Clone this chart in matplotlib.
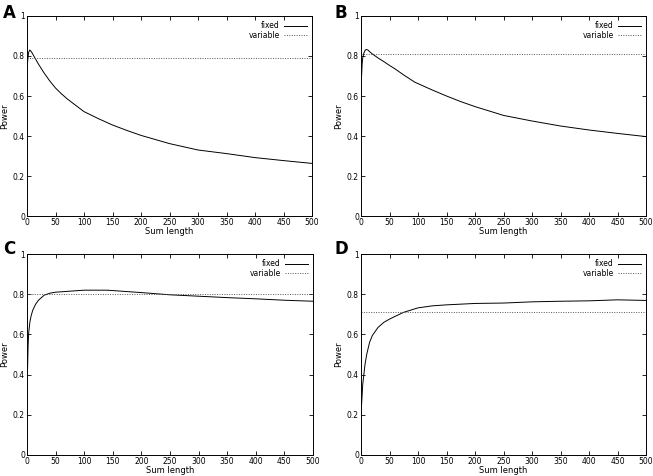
import matplotlib
matplotlib.use("Agg")
import matplotlib.pyplot as plt

# ---- data ----
x_A = [1, 2, 3, 5, 8, 10, 15, 20, 30, 40, 50, 60, 70, 80, 100, 125, 150, 175, 200, 250, 300, 350, 400, 450, 500]
fixed_A = [0.77, 0.80, 0.82, 0.83, 0.82, 0.81, 0.785, 0.76, 0.715, 0.675, 0.64, 0.612, 0.587, 0.565, 0.522, 0.487, 0.455, 0.428, 0.403, 0.362, 0.33, 0.312, 0.292, 0.277, 0.263]
variable_A = 0.79

x_B = [1, 2, 3, 5, 7, 9, 12, 15, 20, 30, 40, 50, 60, 75, 95, 100, 125, 150, 175, 200, 250, 300, 350, 400, 450, 500]
fixed_B = [0.70, 0.76, 0.79, 0.815, 0.827, 0.833, 0.83, 0.822, 0.81, 0.79, 0.772, 0.753, 0.735, 0.705, 0.668, 0.662, 0.63, 0.60, 0.572, 0.547, 0.503, 0.475, 0.45, 0.43, 0.413, 0.397]
variable_B = 0.81

x_C = [1, 2, 3, 5, 7, 10, 15, 20, 30, 40, 50, 75, 100, 140, 175, 200, 250, 300, 350, 400, 450, 500]
fixed_C = [0.43, 0.55, 0.61, 0.66, 0.69, 0.72, 0.75, 0.77, 0.795, 0.805, 0.81, 0.815, 0.82, 0.82, 0.813, 0.808, 0.797, 0.79, 0.783, 0.777, 0.77, 0.765]
variable_C = 0.80

x_D = [1, 2, 3, 5, 7, 10, 15, 20, 25, 30, 40, 50, 60, 75, 100, 125, 150, 200, 250, 300, 350, 400, 450, 500]
fixed_D = [0.25, 0.30, 0.35, 0.40, 0.45, 0.50, 0.56, 0.595, 0.615, 0.635, 0.66, 0.676, 0.69, 0.71, 0.732, 0.742, 0.747, 0.754, 0.756, 0.762, 0.765, 0.767, 0.772, 0.769]
variable_D = 0.71

panels = [("A", x_A, fixed_A, variable_A),
          ("B", x_B, fixed_B, variable_B),
          ("C", x_C, fixed_C, variable_C),
          ("D", x_D, fixed_D, variable_D)]

xticks = [0, 50, 100, 150, 200, 250, 300, 350, 400, 450, 500]
yticks = [0, 0.2, 0.4, 0.6, 0.8, 1]
ytick_labels = ["0", "0.2", "0.4", "0.6", "0.8", "1"]

W, H = 653, 476
fig = plt.figure(figsize=(W / 100, H / 100), dpi=100)
plt.rcParams['font.family'] = ['DejaVu Sans']

# axes boxes in pixels: left, top, right, bottom
boxes = [(27, 16, 312, 216), (361, 16, 646, 216),
         (27, 254, 313, 455), (361, 254, 646, 455)]
label_pos = [(3, 4), (335, 4), (3, 240), (335, 240)]

for (lab, xs, fx, var), (l, t, r, b), (lx, ly) in zip(panels, boxes, label_pos):
    ax = fig.add_axes([l / W, 1 - b / H, (r - l) / W, (b - t) / H])
    ax.plot(xs, fx, color="black", lw=0.7, label="fixed")
    ax.plot([0, 500], [var, var], color="#555555", lw=0.7, ls=(0, (1, 1.5)), label="variable")
    ax.set_xlim(0, 500)
    ax.set_ylim(0, 1)
    ax.set_xticks(xticks)
    ax.set_xticklabels([str(v) for v in xticks])
    ax.set_yticks(yticks)
    ax.set_yticklabels(ytick_labels)
    ax.tick_params(direction="in", length=3, width=0.6, labelsize=5.5, pad=1.5,
                   top=True, right=True)
    for s in ax.spines.values():
        s.set_linewidth(0.7)
    ax.set_xlabel("Sum length", fontsize=6, labelpad=0)
    ax.set_ylabel("Power", fontsize=6, labelpad=3)
    ax.legend(loc="upper right", frameon=False, fontsize=5.5, markerfirst=False,
              handlelength=3.0, handletextpad=0.5, labelspacing=0.1,
              borderaxespad=0.3)
    fig.text(lx / W, 1 - ly / H, lab, fontsize=12, fontweight="bold", va="top", ha="left")

fig.savefig("out.png", dpi=100)
